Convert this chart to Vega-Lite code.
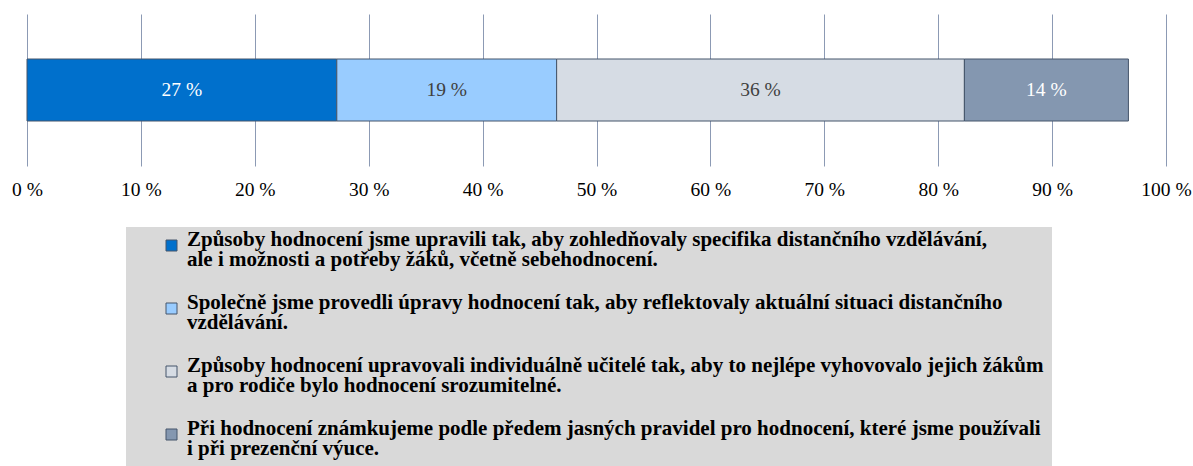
{
  "$schema": "https://vega.github.io/schema/vega-lite/v6.json",
  "width": 1139,
  "height": 152,
  "autosize": "none",
  "padding": {"left": 27, "top": 14, "right": 27, "bottom": 300},
  "background": "white",
  "config": {
    "view": {"stroke": null},
    "font": "Liberation Serif",
    "style": {"guide-label": {"lineHeight": 20}}
  },
  "data": {
    "values": [
      {"row": "a", "kategorie": "Způsoby hodnocení jsme upravili tak, aby zohledňovaly specifika distančního vzdělávání,|ale i možnosti a potřeby žáků, včetně sebehodnocení.", "podil": 27.2, "popisek": "27 %", "poradi": 1, "svetly": 1},
      {"row": "a", "kategorie": "Společně jsme provedli úpravy hodnocení tak, aby reflektovaly aktuální situaci distančního|vzdělávání.", "podil": 19.3, "popisek": "19 %", "poradi": 2, "svetly": 0},
      {"row": "a", "kategorie": "Způsoby hodnocení upravovali individuálně učitelé tak, aby to nejlépe vyhovovalo jejich žákům|a pro rodiče bylo hodnocení srozumitelné.", "podil": 35.8, "popisek": "36 %", "poradi": 3, "svetly": 0},
      {"row": "a", "kategorie": "Při hodnocení známkujeme podle předem jasných pravidel pro hodnocení, které jsme používali|i při prezenční výuce.", "podil": 14.4, "popisek": "14 %", "poradi": 4, "svetly": 1}
    ]
  },
  "encoding": {
    "y": {"field": "row", "type": "nominal", "axis": null, "scale": {"paddingInner": 0, "paddingOuter": 0}}
  },
  "layer": [
    {
      "mark": {"type": "bar", "size": 62, "stroke": "#44546a", "strokeWidth": 1},
      "encoding": {
        "x": {
          "field": "podil", "type": "quantitative", "stack": "zero",
          "scale": {"domain": [0, 100], "nice": false},
          "axis": {
            "values": [0, 10, 20, 30, 40, 50, 60, 70, 80, 90, 100],
            "labelExpr": "datum.value + ' %'",
            "grid": true, "gridColor": "#8c9ab4", "gridWidth": 1,
            "domain": false, "ticks": false,
            "labelFont": "Liberation Serif",
            "labelFontSize": 19.5, "labelColor": "#000000",
            "labelPadding": 14, "labelFlush": false, "title": null
          }
        },
        "color": {
          "field": "kategorie", "type": "nominal",
          "scale": {
            "domain": [
              "Způsoby hodnocení jsme upravili tak, aby zohledňovaly specifika distančního vzdělávání,|ale i možnosti a potřeby žáků, včetně sebehodnocení.",
              "Společně jsme provedli úpravy hodnocení tak, aby reflektovaly aktuální situaci distančního|vzdělávání.",
              "Způsoby hodnocení upravovali individuálně učitelé tak, aby to nejlépe vyhovovalo jejich žákům|a pro rodiče bylo hodnocení srozumitelné.",
              "Při hodnocení známkujeme podle předem jasných pravidel pro hodnocení, které jsme používali|i při prezenční výuce."
            ],
            "range": ["#0070cc", "#99ccff", "#d6dce4", "#8497b0"]
          },
          "legend": {
            "orient": "none", "legendX": 99, "legendY": 213,
            "title": null, "fillColor": "#d9d9d9", "padding": 8,
            "symbolType": "square", "symbolSize": 121,
            "symbolStrokeColor": "#44546a", "symbolStrokeWidth": 1,
            "symbolOffset": 27, "labelOffset": 5,
            "labelFont": "Liberation Serif", "labelFontWeight": "bold",
            "labelFontSize": 21, "labelColor": "#000000", "labelLimit": 1200,
            "labelBaseline": "alphabetic",
            "labelExpr": "split(datum.label, '|')",
            "rowPadding": 21
          }
        },
        "order": {"field": "poradi", "type": "quantitative"}
      }
    },
    {
      "mark": {"type": "text", "fontSize": 19.5, "font": "Liberation Serif"},
      "encoding": {
        "x": {"field": "podil", "type": "quantitative", "stack": "zero", "bandPosition": 0.5},
        "detail": {"field": "kategorie", "type": "nominal"},
        "order": {"field": "poradi", "type": "quantitative"},
        "text": {"field": "popisek"},
        "color": {
          "condition": {"test": "datum.svetly == 1", "value": "#ffffff"},
          "value": "#404040"
        }
      }
    }
  ]
}
